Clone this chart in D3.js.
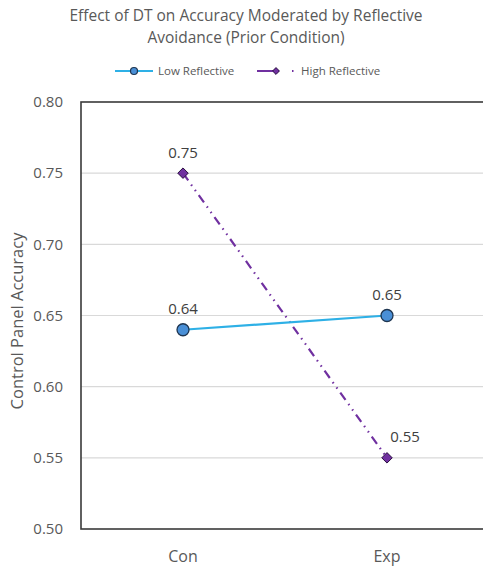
<!DOCTYPE html>
<html>
<head>
<meta charset="UTF-8">
<script src="https://cdn.jsdelivr.net/npm/d3@7"></script>
<style>
  body { margin: 0; background: #fff; }
  svg { display: block; font-family: "Open Sans", "Noto Sans", sans-serif; }
  .grid line { stroke: #d9d9d9; stroke-width: 1.2; }
  .tick text { fill: #595959; }
</style>
</head>
<body>
<svg width="483" height="568"></svg>
<script>
var categories = ["Con", "Exp"];
var lowReflective = [0.64, 0.65];
var highReflective = [0.75, 0.55];
var yTicks = [0.50, 0.55, 0.60, 0.65, 0.70, 0.75, 0.80];

var svg = d3.select("svg"),
    margin = {top: 102, right: -6, bottom: 39, left: 81},
    width = +svg.attr("width") - margin.left - margin.right,
    height = +svg.attr("height") - margin.top - margin.bottom;

var x = d3.scaleBand().domain(categories).range([0, width]),
    y = d3.scaleLinear().domain([0.5, 0.8]).range([height, 0]);

var g = svg.append("g")
    .attr("transform", "translate(" + margin.left + "," + margin.top + ")");

// title
svg.append("text")
    .attr("x", 246).attr("y", 21)
    .attr("text-anchor", "middle")
    .attr("font-size", 15.5).attr("fill", "#595959")
    .text("Effect of DT on Accuracy Moderated by Reflective");
svg.append("text")
    .attr("x", 246).attr("y", 43)
    .attr("text-anchor", "middle")
    .attr("font-size", 15.5).attr("fill", "#595959")
    .text("Avoidance (Prior Condition)");

// gridlines
g.append("g")
    .attr("class", "grid")
    .selectAll("line")
    .data(yTicks.slice(1, -1))
    .enter().append("line")
      .attr("x1", 0).attr("x2", width)
      .attr("y1", function(d) { return y(d); })
      .attr("y2", function(d) { return y(d); });

// y axis
var yAxis = g.append("g")
    .call(d3.axisLeft(y).tickValues(yTicks).tickFormat(d3.format(".2f")).tickSize(0).tickPadding(18));
yAxis.select(".domain").remove();
yAxis.selectAll("text").attr("font-size", 15).attr("font-family", "Open Sans, sans-serif");

// x axis
var xAxis = g.append("g")
    .attr("transform", "translate(0," + height + ")")
    .call(d3.axisBottom(x).tickSize(0).tickPadding(22));
xAxis.select(".domain").remove();
xAxis.selectAll("text").attr("font-size", 16).attr("font-family", "Open Sans, sans-serif");

// frame
g.append("rect")
    .attr("width", width).attr("height", height)
    .attr("fill", "none").attr("stroke", "#3a3a3a").attr("stroke-width", 1.6);

// y title
svg.append("text")
    .attr("transform", "translate(23,321) rotate(-90)")
    .attr("text-anchor", "middle")
    .attr("font-size", 16.5).attr("fill", "#595959")
    .text("Control Panel Accuracy");

var cx = function(i) { return x(categories[i]) + x.bandwidth() / 2; };
var line = d3.line().x(function(d, i) { return cx(i); }).y(function(d) { return y(d); });

// high reflective
g.append("path")
    .datum(highReflective)
    .attr("d", line)
    .attr("fill", "none").attr("stroke", "#7030a0").attr("stroke-width", 2.2)
    .attr("stroke-dasharray", "9,5,1.5,5,1.5,5");

// low reflective
g.append("path")
    .datum(lowReflective)
    .attr("d", line)
    .attr("fill", "none").attr("stroke", "#2eb0e6").attr("stroke-width", 2.2);

var diamond = d3.symbol().type(d3.symbolDiamond2).size(70);

g.selectAll(".hi")
    .data(highReflective)
    .enter().append("path")
      .attr("class", "hi")
      .attr("d", diamond)
      .attr("transform", function(d, i) { return "translate(" + cx(i) + "," + y(d) + ")"; })
      .attr("fill", "#7030a0").attr("stroke", "#2a1040").attr("stroke-width", 1);

g.selectAll(".lo")
    .data(lowReflective)
    .enter().append("circle")
      .attr("class", "lo")
      .attr("cx", function(d, i) { return cx(i); })
      .attr("cy", function(d) { return y(d); })
      .attr("r", 6)
      .attr("fill", "#4a8fd6").attr("stroke", "#1e3550").attr("stroke-width", 1.3);

// data labels
var fmt = d3.format(".2f");
g.selectAll(".lbl-lo")
    .data(lowReflective)
    .enter().append("text")
      .attr("x", function(d, i) { return cx(i); })
      .attr("y", function(d) { return y(d) - 16; })
      .attr("text-anchor", "middle").attr("font-size", 15).attr("fill", "#404040")
      .text(fmt);

g.selectAll(".lbl-hi")
    .data(highReflective)
    .enter().append("text")
      .attr("x", function(d, i) { return cx(i) + (i === 1 ? 18 : 0); })
      .attr("y", function(d, i) { return y(d) - (i === 1 ? 16 : 15); })
      .attr("text-anchor", "middle").attr("font-size", 15).attr("fill", "#404040")
      .text(fmt);

// legend
var legend = svg.append("g").attr("transform", "translate(0,71)");
legend.append("line").attr("x1", 115).attr("x2", 153).attr("stroke", "#2eb0e6").attr("stroke-width", 2.2);
legend.append("circle").attr("cx", 134).attr("r", 3.5)
    .attr("fill", "#4a8fd6").attr("stroke", "#1e3550").attr("stroke-width", 1.2);
legend.append("text").attr("x", 158).attr("y", 4).attr("font-size", 11.5).attr("fill", "#595959")
    .text("Low Reflective");
legend.append("line").attr("x1", 257).attr("x2", 296).attr("stroke", "#7030a0").attr("stroke-width", 2.2)
    .attr("stroke-dasharray", "22,13,1.5,10");
legend.append("path").attr("d", d3.symbol().type(d3.symbolDiamond2).size(30))
    .attr("transform", "translate(276,0)")
    .attr("fill", "#7030a0").attr("stroke", "#2a1040").attr("stroke-width", 1);
legend.append("text").attr("x", 301).attr("y", 4).attr("font-size", 11.5).attr("fill", "#595959")
    .text("High Reflective");
</script>
</body>
</html>
